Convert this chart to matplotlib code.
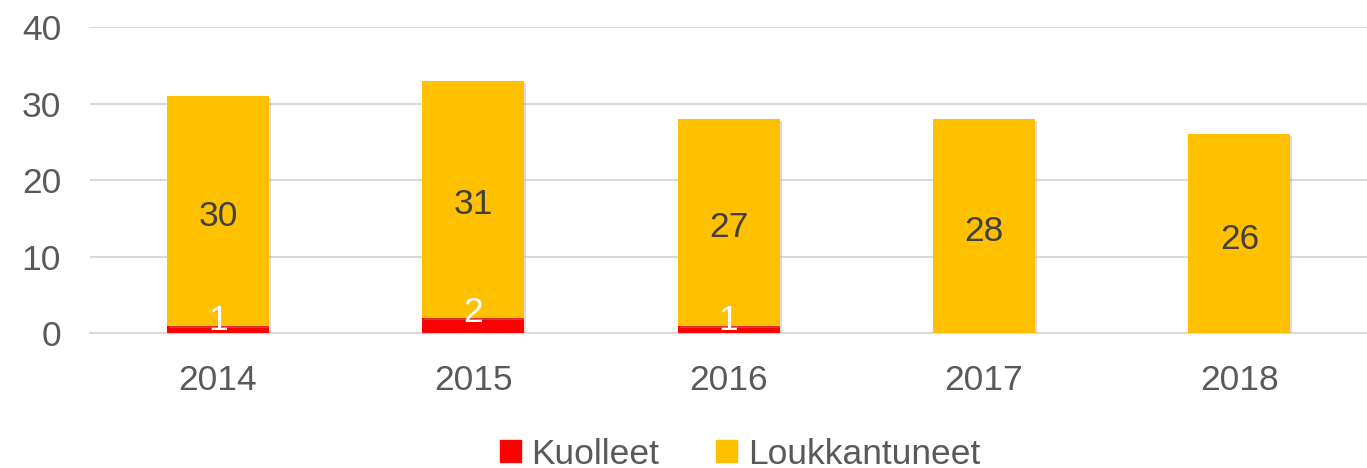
import matplotlib.pyplot as plt
import matplotlib.patheffects as pe
from matplotlib.patches import Patch

plt.rcParams['font.family'] = ['Liberation Sans', 'DejaVu Sans']

# data
years = ['2014', '2015', '2016', '2017', '2018']
kuolleet = [1, 2, 1, 0, 0]
loukkantuneet = [30, 31, 27, 28, 26]

red = '#FF0000'
yellow = '#FFC000'
text_col = '#595959'
grid_col = '#D9D9D9'
fs = 25.5

fig = plt.figure(figsize=(13.67, 4.68), dpi=100)
ax = fig.add_axes([0.066, 0.288, 0.934, 0.654])

x = list(range(len(years)))
shadow = [pe.SimplePatchShadow(offset=(1.5, -1.5), shadow_rgbFace='#9a9a9a', alpha=0.35), pe.Normal()]

b1 = ax.bar(x, kuolleet, width=0.4, color=red, zorder=3)
b2 = ax.bar(x, loukkantuneet, width=0.4, bottom=kuolleet, color=yellow, zorder=3)
for r1, r2 in zip(b1, b2):
    r1.set_path_effects(shadow)
    r2.set_path_effects(shadow)

# labels
for i in x:
    if kuolleet[i] > 0:
        ax.annotate(str(kuolleet[i]), (i, kuolleet[i]), xytext=(0, -3),
                    textcoords='offset points', ha='center', va='baseline',
                    color='white', fontsize=fs, zorder=5)
    mid = kuolleet[i] + loukkantuneet[i] / 2
    ax.annotate(str(loukkantuneet[i]), (i, mid), xytext=(0, -4),
                textcoords='offset points', ha='center', va='center',
                color='#404040', fontsize=fs, zorder=5)

ax.set_xlim(-0.5, len(years) - 0.5)
ax.set_ylim(0, 40)
ax.set_yticks([0, 10, 20, 30, 40])
ax.set_xticks(x)
ax.set_xticklabels(years)
ax.tick_params(axis='both', length=0, labelsize=fs, labelcolor=text_col)
ax.tick_params(axis='y', pad=21)
ax.tick_params(axis='x', pad=22)
ax.grid(axis='y', color=grid_col, linewidth=1.5, zorder=0)
for s in ['top', 'right', 'left']:
    ax.spines[s].set_visible(False)
ax.spines['bottom'].set_color(grid_col)
ax.spines['bottom'].set_linewidth(1.5)

handles = [Patch(color=red, label='Kuolleet'), Patch(color=yellow, label='Loukkantuneet')]
fig.legend(handles=handles, loc='center', bbox_to_anchor=(740 / 1367, 1 - 454 / 468),
           ncol=2, frameon=False, fontsize=fs, labelcolor=text_col,
           handlelength=0.6, handleheight=0.6, handletextpad=0.3, columnspacing=1.6)

fig.savefig('out.png', dpi=100)
